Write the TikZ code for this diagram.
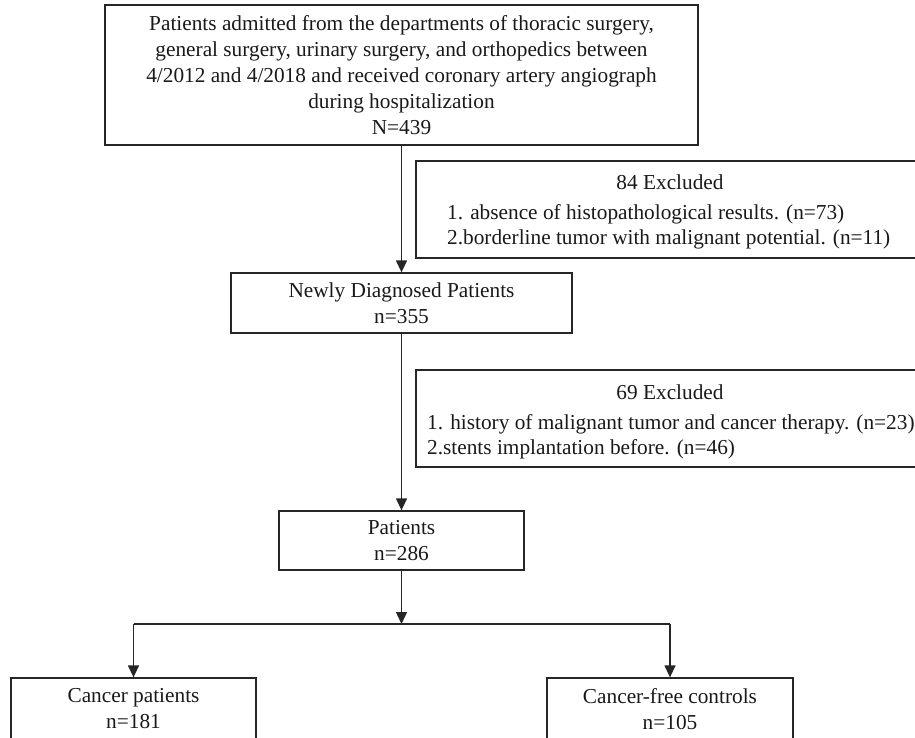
\documentclass[tikz,border=0pt]{standalone}
\usepackage{fontspec}
\setmainfont{Liberation Serif}
\usetikzlibrary{arrows.meta}
\begin{document}
\begin{tikzpicture}[x=1pt,y=-1pt,
  box/.style={draw=black!85, line width=1.3pt, rectangle, inner sep=0pt, align=center,
    font=\fontsize{21.3}{26}\selectfont, text=black!90},
  txt/.style={inner sep=0pt, font=\fontsize{21.3}{26}\selectfont, text=black!90,
    text height=15.5pt, text depth=1.5pt},
  arr/.style={draw=black!85, line width=1.3pt, -{Triangle[length=12pt,width=11pt]}},
  ln/.style={draw=black!85, line width=1.3pt}]
\useasboundingbox (0,0) rectangle (915,737);
\node[box, minimum width=593pt, minimum height=140pt] (top) at (401.5,75)
  {Patients admitted from the departments of thoracic surgery,\\
   general surgery, urinary surgery, and orthopedics between\\
   4/2012 and 4/2018 and received coronary artery angiograph\\
   during hospitalization\\
   N=439};
\node[box, minimum width=503pt, minimum height=97pt] (exa) at (667.5,209.5) {};
\node[txt] (exah) at (670,182) {84 Excluded};
\node[txt, anchor=west] (exa1) at (447,212) {1. absence of histopathological results. (n=73)};
\node[txt, anchor=west] (exa2) at (447,237) {2.borderline tumor with malignant potential. (n=11)};
\node[box, minimum width=341pt, minimum height=60pt] (newly) at (401.5,303)
  {Newly Diagnosed Patients\\ n=355};
\node[box, minimum width=503pt, minimum height=97pt] (exb) at (667.5,418.5) {};
\node[txt] (exbh) at (670,392) {69 Excluded};
\node[txt, anchor=west] (exb1) at (427,422) {1. history of malignant tumor and cancer therapy. (n=23)};
\node[txt, anchor=west] (exb2) at (427,447) {2.stents implantation before. (n=46)};
\node[box, minimum width=245pt, minimum height=59pt] (pat) at (401.5,540.5)
  {Patients\\ n=286};
\node[box, minimum width=245pt, minimum height=62pt] (canc) at (133.5,709)
  {Cancer patients\\ n=181};
\node[box, minimum width=246pt, minimum height=62pt] (ctrl) at (670,709)
  {Cancer-free controls\\ n=105};
\coordinate (br) at (401.5,624);
\coordinate (brl) at (133.5,624);
\coordinate (brr) at (670,624);
\draw[arr] (top.south) -- (newly.north);
\draw[arr] (newly.south) -- (pat.north);
\draw[arr] (pat.south) -- (br);
\draw[ln] (brl) -- (brr);
\draw[arr] (brl) -- (canc.north);
\draw[arr] (brr) -- (ctrl.north);
\end{tikzpicture}
\end{document}
